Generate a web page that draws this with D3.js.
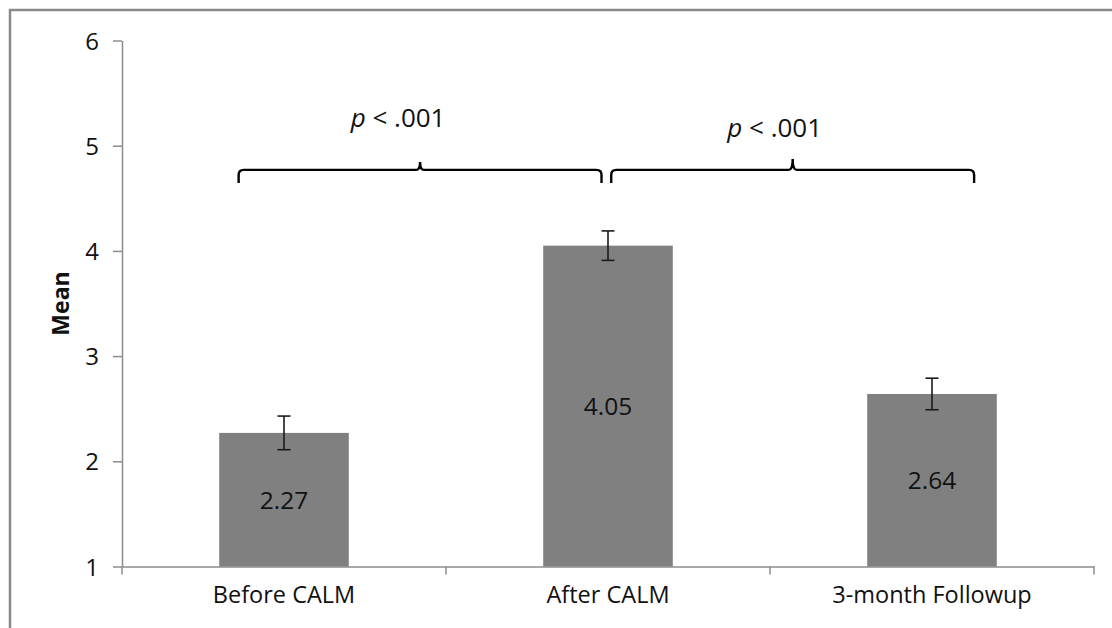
<!DOCTYPE html>
<html>
<head>
<meta charset="utf-8">
<script src="https://cdn.jsdelivr.net/npm/d3@7"></script>
<style>
  html, body { margin: 0; padding: 0; background: #fff; }
  svg { display: block; }
  text { font-family: "Open Sans", sans-serif; fill: #111; }
</style>
</head>
<body>
<svg id="chart" width="1112" height="628"></svg>
<script>
// Mean scores at each measurement point, with error bar half-widths
const categories = ["Before CALM", "After CALM", "3-month Followup"];
const means = [2.27, 4.05, 2.64];
const errors = [0.16, 0.14, 0.15];
const yTicks = [1, 2, 3, 4, 5, 6];

// Significance brackets (spanning positions in category-index units)
const bracketFrom = [-0.14, 1.01];
const bracketTo = [0.98, 2.13];
const bracketLevel = [4.77, 4.77];
const bracketLabels = ["p", "p"];

const svg = d3.select("#chart");

// Outer chart frame (runs past the right and bottom edges)
svg.append("rect")
  .attr("x", 10).attr("y", 10)
  .attr("width", 1130).attr("height", 650)
  .attr("fill", "none")
  .attr("stroke", "#8a8a8a")
  .attr("stroke-width", 2.5);

const x = d3.scaleBand()
  .domain(categories)
  .range([122, 1094])
  .paddingInner(0.6)
  .paddingOuter(0.3);

const y = d3.scaleLinear().domain([1, 6]).range([566.5, 40.5]);

// Linear index scale for placing brackets between categories
const xi = d3.scaleLinear()
  .domain([-0.5, categories.length - 0.5])
  .range([122, 1094]);

// Y axis
const yAxis = svg.append("g")
  .attr("transform", "translate(122,0)")
  .call(d3.axisLeft(y).tickValues(yTicks).tickFormat(d3.format("d")).tickSize(9).tickSizeOuter(0).tickPadding(14));
yAxis.select(".domain").attr("stroke", "#8c8c8c").attr("stroke-width", 1.5);
yAxis.selectAll(".tick line").attr("stroke", "#8c8c8c").attr("stroke-width", 1.5);
yAxis.selectAll(".tick text")
  .attr("font-size", 24)
  .attr("font-family", "'Open Sans', sans-serif")
  .attr("fill", "#111")
  .attr("dy", "0.36em");

// X axis line and category boundary ticks
const xAxis = svg.append("g")
  .attr("transform", `translate(0,${y(1)})`)
  .call(d3.axisBottom(x).tickSize(0).tickSizeOuter(0).tickPadding(20));
xAxis.select(".domain").attr("stroke", "#8c8c8c").attr("stroke-width", 1.5);
xAxis.selectAll(".tick text")
  .attr("font-size", 23.5)
  .attr("font-family", "'Open Sans', sans-serif")
  .attr("fill", "#111");

const boundaries = d3.range(categories.length + 1).map(i => xi(i - 0.5));
xAxis.selectAll(".bound")
  .data(boundaries)
  .join("line")
  .attr("class", "bound")
  .attr("x1", d => d).attr("x2", d => d)
  .attr("y1", 0).attr("y2", 8)
  .attr("stroke", "#8c8c8c")
  .attr("stroke-width", 1.5);

// Y axis title
svg.append("text")
  .attr("transform", `translate(69,${(y(1) + y(6)) / 2}) rotate(-90)`)
  .attr("text-anchor", "middle")
  .attr("font-size", 23)
  .attr("font-weight", "bold")
  .text("Mean");

const data = categories.map((c, i) => ({ c, m: means[i], e: errors[i] }));

// Bars
svg.selectAll(".bar")
  .data(data)
  .join("rect")
  .attr("class", "bar")
  .attr("x", d => x(d.c))
  .attr("y", d => y(d.m))
  .attr("width", x.bandwidth())
  .attr("height", d => y(1) - y(d.m))
  .attr("fill", "#808080");

// Value labels at mid-bar
svg.selectAll(".val")
  .data(data)
  .join("text")
  .attr("class", "val")
  .attr("x", d => x(d.c) + x.bandwidth() / 2)
  .attr("y", d => (y(d.m) + y(1)) / 2)
  .attr("dy", "0.36em")
  .attr("text-anchor", "middle")
  .attr("font-size", 24.5)
  .text(d => d.m.toFixed(2));

// Error bars
const eb = svg.selectAll(".err")
  .data(data)
  .join("g")
  .attr("class", "err")
  .attr("stroke", "#1a1a1a")
  .attr("stroke-width", 1.6);
eb.append("line")
  .attr("x1", d => x(d.c) + x.bandwidth() / 2)
  .attr("x2", d => x(d.c) + x.bandwidth() / 2)
  .attr("y1", d => y(d.m + d.e))
  .attr("y2", d => y(d.m - d.e));
[1, -1].forEach(s => {
  eb.append("line")
    .attr("x1", d => x(d.c) + x.bandwidth() / 2 - 6.5)
    .attr("x2", d => x(d.c) + x.bandwidth() / 2 + 6.5)
    .attr("y1", d => y(d.m + s * d.e))
    .attr("y2", d => y(d.m + s * d.e));
});

// Curly brackets with p-value labels
function bracePath(x0, x1, yy, drop, tip) {
  const xm = (x0 + x1) / 2;
  const r = 5;
  return `M${x0},${yy + drop} L${x0},${yy + r} Q${x0},${yy} ${x0 + r},${yy}` +
    ` L${xm - 4},${yy} Q${xm},${yy} ${xm},${yy - tip}` +
    ` Q${xm},${yy} ${xm + 4},${yy} L${x1 - r},${yy} Q${x1},${yy} ${x1},${yy + r} L${x1},${yy + drop}`;
}

const tipHeights = [8, 11];
const labelShift = [[-22, -43], [-18, -33]];

bracketFrom.forEach((f, i) => {
  const x0 = xi(f), x1 = xi(bracketTo[i]), yy = y(bracketLevel[i]);
  svg.append("path")
    .attr("d", bracePath(x0, x1, yy, 13, tipHeights[i]))
    .attr("fill", "none")
    .attr("stroke", "#000")
    .attr("stroke-width", 2.4);
  const t = svg.append("text")
    .attr("x", (x0 + x1) / 2 + labelShift[i][0])
    .attr("y", yy + labelShift[i][1])
    .attr("text-anchor", "middle")
    .attr("font-size", 26)
    .attr("fill", "#000");
  t.append("tspan").attr("font-style", "italic").text(bracketLabels[i]);
  t.append("tspan").text(" < .001");
});
</script>
</body>
</html>
